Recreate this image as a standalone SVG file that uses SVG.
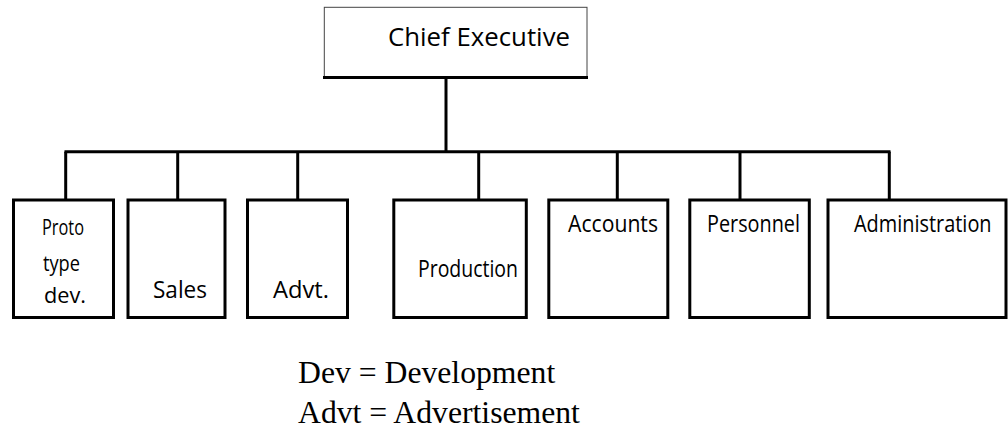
<svg xmlns="http://www.w3.org/2000/svg" width="1008" height="439" viewBox="0 0 1008 439">
<style>
.box{fill:#fff;stroke:#000;stroke-width:3}
.thin{fill:#fff;stroke:#444;stroke-width:1}
.con{fill:none;stroke:#000;stroke-width:3}
.lbl{font-family:"Open Sans","Noto Sans",sans-serif;font-size:24px;fill:#000}
.sm{font-size:22px}
.top{font-family:"Open Sans","Noto Sans",sans-serif;font-size:25px;fill:#000}
.leg{font-family:"Liberation Serif","Times New Roman",serif;font-size:31.7px;fill:#000}
</style>
<rect width="1008" height="439" fill="#fff"/>
<g id="connectors">
<line class="con" x1="446" y1="77.5" x2="446" y2="151.7"/>
<line class="con" x1="64.5" y1="151.7" x2="890.5" y2="151.7"/>
<line class="con" x1="65.7" y1="151.7" x2="65.7" y2="200"/>
<line class="con" x1="177.7" y1="151.7" x2="177.7" y2="200"/>
<line class="con" x1="297.7" y1="151.7" x2="297.7" y2="200"/>
<line class="con" x1="478.7" y1="151.7" x2="478.7" y2="200"/>
<line class="con" x1="617.3" y1="151.7" x2="617.3" y2="200"/>
<line class="con" x1="740" y1="151.7" x2="740" y2="200"/>
<line class="con" x1="889.3" y1="151.7" x2="889.3" y2="200"/>
</g>
<g id="chief">
<rect class="thin" x="324.3" y="7.3" width="262.7" height="70.2"/>
<line class="con" x1="323" y1="77.5" x2="588" y2="77.5"/>
<text class="top" x="388" y="46" textLength="182" lengthAdjust="spacingAndGlyphs">Chief Executive</text>
</g>
<g id="proto">
<rect class="box" x="13.5" y="200" width="100" height="117.5"/>
<text class="lbl sm" x="42" y="235" textLength="42" lengthAdjust="spacingAndGlyphs">Proto</text>
<text class="lbl sm" x="43" y="271" textLength="37" lengthAdjust="spacingAndGlyphs">type</text>
<text class="lbl sm" x="44" y="303" textLength="42" lengthAdjust="spacingAndGlyphs">dev.</text>
</g>
<g id="sales">
<rect class="box" x="128" y="200" width="97" height="117.5"/>
<text class="lbl" x="153" y="298" textLength="54" lengthAdjust="spacingAndGlyphs">Sales</text>
</g>
<g id="advt">
<rect class="box" x="247.5" y="200" width="100" height="117.5"/>
<text class="lbl" x="273" y="298" textLength="56" lengthAdjust="spacingAndGlyphs">Advt.</text>
</g>
<g id="production">
<rect class="box" x="393.8" y="200" width="132.5" height="117.5"/>
<text class="lbl" x="418" y="277" textLength="100" lengthAdjust="spacingAndGlyphs">Production</text>
</g>
<g id="accounts">
<rect class="box" x="548.8" y="200" width="119" height="117.5"/>
<text class="lbl" x="568" y="232" textLength="90" lengthAdjust="spacingAndGlyphs">Accounts</text>
</g>
<g id="personnel">
<rect class="box" x="689.8" y="200" width="119.5" height="117.5"/>
<text class="lbl" x="707" y="232" textLength="93" lengthAdjust="spacingAndGlyphs">Personnel</text>
</g>
<g id="administration">
<rect class="box" x="828" y="200" width="178" height="117.5"/>
<text class="lbl" transform="translate(854,232) scale(0.83,1)" x="0" y="0">Administration</text>
</g>
<g id="legend">
<text class="leg" x="298" y="383">Dev = Development</text>
<text class="leg" x="298" y="423">Advt = Advertisement</text>
</g>
</svg>
